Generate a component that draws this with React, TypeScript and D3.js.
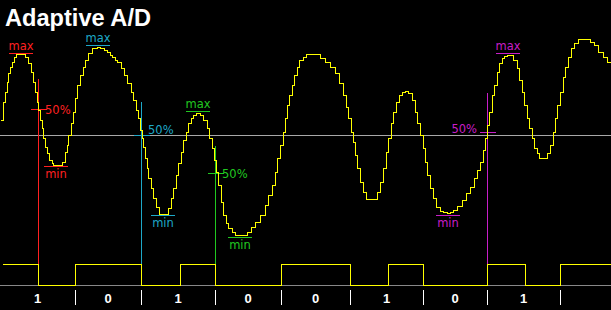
import React from "react";
import * as d3 from "d3";

// ---- data ----
const title = "Adaptive A/D";

// sampled input signal (time in µs, level relative to midline)
const sigT = [0,3,5,7,8,10,12,14,16,19,23,25,28,31,33,35,37,38,40,42,43,45,47,49,52,53,57,60,62,65,67,68,71,73,75,77,80,83,85,88,92,97,100,104,107,110,112,115,117,121,124,127,131,133,136,138,140,142,143,145,147,148,151,153,156,159,163,166,168,171,173,176,178,181,183,186,188,191,193,196,198,200,203,207,209,212,214,216,218,221,223,226,228,232,235,239,243,247,251,255,260,265,268,272,275,277,280,283,285,287,289,292,294,297,299,303,306,312,317,320,325,330,335,339,343,346,348,351,353,355,357,360,363,366,370,373,377,380,383,386,388,391,393,396,399,402,405,408,412,415,417,420,423,425,427,430,433,436,440,443,447,450,453,457,462,466,470,474,477,480,483,485,487,489,492,494,497,499,502,504,507,510,513,517,519,522,524,527,529,532,534,537,539,544,547,550,553,555,557,560,563,565,568,571,574,578,583,587,590,594,598,603,607,611];
const sigV = [15,33,43,53,62,68,73,78,81,81,81,78,72,63,53,43,33,25,15,7,-3,-12,-18,-25,-28,-30,-30,-30,-27,-17,-10,0,12,23,37,50,60,68,75,82,87,88,87,85,83,80,78,75,73,67,60,52,43,35,25,17,5,-3,-12,-23,-33,-43,-53,-63,-72,-79,-79,-79,-73,-63,-53,-40,-28,-17,-5,3,12,17,20,22,22,20,15,7,-3,-13,-25,-37,-50,-67,-80,-88,-93,-97,-100,-100,-100,-97,-92,-87,-80,-70,-60,-50,-37,-23,-10,3,17,30,40,50,60,68,75,78,81,81,81,77,73,68,62,52,40,28,17,3,-7,-20,-33,-47,-57,-64,-64,-64,-57,-47,-33,-17,-3,12,23,33,40,43,44,42,35,23,12,0,-13,-27,-40,-53,-63,-72,-76,-77,-78,-77,-75,-71,-65,-58,-52,-43,-35,-27,-15,-3,10,23,40,50,63,72,77,79,80,80,75,67,55,43,30,17,7,-3,-13,-18,-23,-23,-18,-10,3,17,30,43,58,68,78,87,92,96,96,96,93,90,83,78,73,67];

// digital output (square wave)
const outT = [2,38,75,141,180,215,281,350,388,423,487,525,560,611];
const outS = [1,0,1,0,1,0,1,0,1,0,1,0,1,1];

// decoded bits
const bitEdges = [0,75,141,215,281,350,423,487,560];
const bits = ["1","0","1","0","0","1","0","1"];

// adaptive threshold annotations
const annColor = ["#ff2020", "#1ea8c8", "#20c820", "#c81ec8"];
const annMaxT = [21, 98, 198, 508];
const annMinT = [56, 163, 240, 448];
const annCrossT = [38, 141, 215, 487];
const annMaxV = [82, 90, 24, 82];
const annMinV = [-31, -80, -102, -80];
const annMidV = [26, 0, -38, 3];
const annTopV = [56, 33, -11, 42];

export default function App() {
  const W = 611, H = 310;
  const x = d3.scaleLinear().domain([0, 611]).range([0, 611]);
  const y = d3.scaleLinear().domain([-100, 100]).range([235, 35]);
  const yb = d3.scaleLinear().domain([0, 1]).range([285, 264]);

  const sig = sigT.map((t, i) => [t, sigV[i]] as [number, number]);
  const sigPath = d3.line<[number, number]>()
    .x(d => x(d[0]) + 0.5)
    .y(d => y(d[1]) + 0.5)
    .curve(d3.curveStepAfter)(sig) || "";

  const out = outT.map((t, i) => [t, outS[i]] as [number, number]);
  const outPath = d3.line<[number, number]>()
    .x(d => x(d[0]) + 0.5)
    .y(d => yb(d[1]) + 0.5)
    .curve(d3.curveStepAfter)(out) || "";

  const labelFont = "'DejaVu Sans', sans-serif";
  const midOffset = [1, -5, 1, -3];
  const midAnchorRight = [false, false, false, true];
  const p = (v: number) => Math.round(v) + 0.5;

  return (
    <div style={{ position: "fixed", left: 0, top: 0, width: W, height: H, background: "#000" }}>
      <svg width={W} height={H} style={{ display: "block" }}>
        <rect x={0} y={0} width={W} height={H} fill="#000" />
        <text x={5} y={26} fill="#fff" fontFamily="'Liberation Sans', Arial, sans-serif"
          fontWeight="bold" fontSize={24} textLength={146} lengthAdjust="spacingAndGlyphs">{title}</text>

        <g shapeRendering="crispEdges">
          {/* midline */}
          <line x1={0} x2={W} y1={p(y(0))} y2={p(y(0))} stroke="#a8a8a8" strokeWidth={1} />
          {/* bottom baseline */}
          <line x1={0} x2={W} y1={p(yb(0))} y2={p(yb(0))} stroke="#888" strokeWidth={1} />

          {/* annotation lines */}
          {annColor.map((c, i) => {
            const cx = p(x(annCrossT[i]));
            const my = p(y(annMidV[i]));
            return (
              <g key={i}>
                <line x1={cx} x2={cx} y1={y(annTopV[i])} y2={yb(1)} stroke={c} strokeWidth={1} />
                <line x1={cx - 8} x2={cx + 8} y1={my} y2={my} stroke={c} strokeWidth={1} />
                <line x1={x(annMaxT[i]) - 12} x2={x(annMaxT[i]) + 12} y1={p(y(annMaxV[i]))} y2={p(y(annMaxV[i]))} stroke={c} strokeWidth={1} />
                <line x1={x(annMinT[i]) - 12} x2={x(annMinT[i]) + 12} y1={p(y(annMinV[i]))} y2={p(y(annMinV[i]))} stroke={c} strokeWidth={1} />
              </g>
            );
          })}

          {/* signal */}
          <path d={sigPath} fill="none" stroke="#ffff00" strokeWidth={1} />
          {/* digital output */}
          <path d={outPath} fill="none" stroke="#ffff00" strokeWidth={1} />

          {/* bit separators */}
          {bitEdges.slice(1).map((e, i) => (
            <line key={"s" + i} x1={p(x(e))} x2={p(x(e))} y1={290} y2={305} stroke="#fff" strokeWidth={1} />
          ))}
        </g>

        {/* annotation labels */}
        {annColor.map((c, i) => {
          const cx = x(annCrossT[i]);
          const my = y(annMidV[i]);
          return (
            <g key={"l" + i}>
              <text x={midAnchorRight[i] ? cx - 10 : cx + 7} y={my + midOffset[i]} fill={c}
                fontFamily={labelFont} fontSize={11.5} dominantBaseline="central"
                textAnchor={midAnchorRight[i] ? "end" : "start"}>50%</text>
              <text x={x(annMaxT[i])} y={y(annMaxV[i]) - 3} fill={c} fontFamily={labelFont} fontSize={11.5} textAnchor="middle">max</text>
              <text x={x(annMinT[i])} y={y(annMinV[i]) + 12} fill={c} fontFamily={labelFont} fontSize={11.5} textAnchor="middle">min</text>
            </g>
          );
        })}

        {bits.map((b, i) => (
          <text key={"b" + i} x={x((bitEdges[i] + bitEdges[i + 1]) / 2)} y={303} fill="#fff"
            fontFamily="'Liberation Sans', Arial, sans-serif" fontWeight="bold" fontSize={13}
            textAnchor="middle">{b}</text>
        ))}
      </svg>
    </div>
  );
}
